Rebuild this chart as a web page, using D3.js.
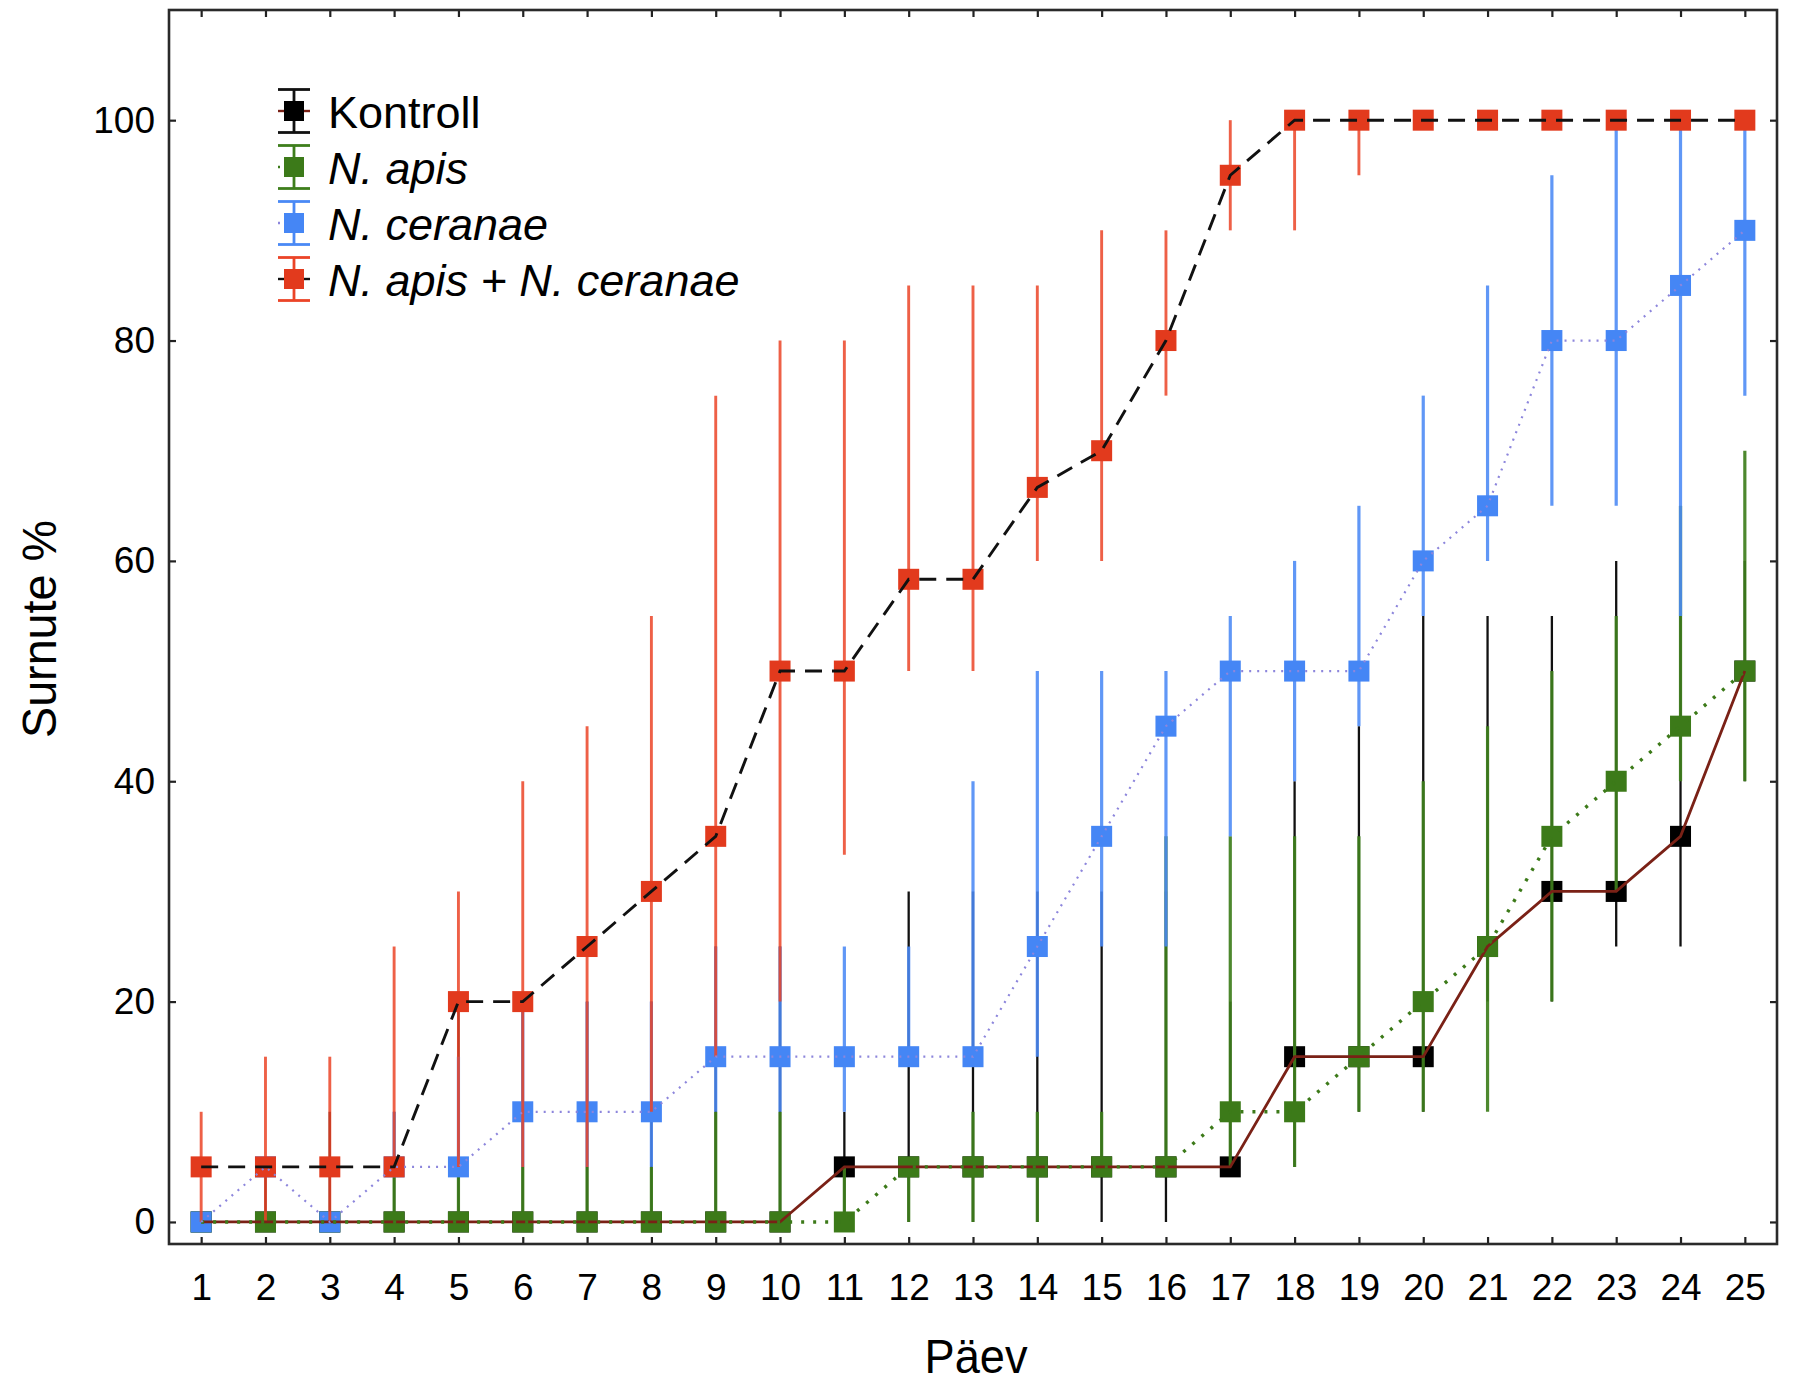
<!DOCTYPE html>
<html><head><meta charset="utf-8">
<script src="https://cdn.jsdelivr.net/npm/d3@7"></script>
<style>body{margin:0;background:#fff}svg{display:block}</style>
</head><body>
<svg id="chart" width="1794" height="1384"></svg>
<script>
// ---- data ----
const days = [1,2,3,4,5,6,7,8,9,10,11,12,13,14,15,16,17,18,19,20,21,22,23,24,25];
const yTicks = [0,20,40,60,80,100];
const seriesNames = ["Kontroll","N. apis","N. ceranae","N. apis + N. ceranae"];

const kontroll   = [0,0,0,0,0,0,0,0,0,0,5,5,5,5,5,5,5,15,15,15,25,30,30,35,50];
const kontrollLo = [0,0,0,0,0,0,0,0,0,0,0,0,0,0,0,0,5,5,10,10,20,20,25,25,40];
const kontrollHi = [0,5,10,10,20,20,20,20,25,25,10,30,30,30,30,30,20,40,45,55,55,55,60,55,60];

const apis   = [0,0,0,0,0,0,0,0,0,0,0,5,5,5,5,5,10,10,15,20,25,35,40,45,50];
const apisLo = [0,0,0,0,0,0,0,0,0,0,0,0,0,0,5,5,5,5,10,10,10,20,30,40,40];
const apisHi = [0,0,0,5,5,5,5,5,10,10,5,5,10,10,10,35,35,35,35,40,45,50,55,65,70];

const ceranae   = [0,5,0,5,5,10,10,10,15,15,15,15,15,25,35,45,50,50,50,60,65,80,80,85,90];
const ceranaeLo = [0,5,0,5,5,5,5,5,10,10,10,15,15,15,25,25,35,40,45,55,60,65,65,55,75];
const ceranaeHi = [0,5,0,10,15,20,20,20,25,25,25,25,40,50,50,50,55,60,65,75,85,95,100,100,100];

const combo   = [5,5,5,5,20,20,25,30,35,50,50,58.33,58.33,66.67,70,80,95,100,100,100,100,100,100,100,100];
const comboLo = [0,0,0,5,5,5,5,10,15,20,33.33,50,50,60,60,75,90,90,95,100,100,100,100,100,100];
const comboHi = [10,15,15,25,30,40,45,55,75,80,80,85,85,85,90,90,100,100,100,100,100,100,100,100,100];

// ---- styles ----
const styles = [
  {fill:"#000000", err:"#111111", errW:2.3, errOp:1.0,  line:"#7a2116", lineW:2.8, dash:null,    italic:false},
  {fill:"#3c7a19", err:"#3e7e1c", errW:3.2, errOp:0.92, line:"#3c7a19", lineW:3.4, dash:"3,9",   italic:true},
  {fill:"#4586f5", err:"#4a89f5", errW:3.2, errOp:0.88, line:"#8d86dc", lineW:2.2, dash:"2,6",   italic:true},
  {fill:"#e23a1d", err:"#eb4427", errW:2.9, errOp:0.85, line:"#111111", lineW:2.9, dash:"17,10", italic:true}
];
const values = [kontroll, apis, ceranae, combo];
const los = [kontrollLo, apisLo, ceranaeLo, comboLo];
const his = [kontrollHi, apisHi, ceranaeHi, comboHi];

const series = seriesNames.map((name,i)=>({
  name, style:styles[i],
  pts: days.map((d,j)=>({day:d, v:values[i][j], lo:los[i][j], hi:his[i][j]}))
}));

const svg = d3.select("#chart");
const x = d3.scaleLinear().domain([0.5,25.5]).range([169,1777]);
const y = d3.scaleLinear().domain([-2,110]).range([1244,10]);
const SQ = 21;
const FONT = "'Liberation Sans', Arial, Helvetica, sans-serif";

const plot = svg.append("g");

// error bars + markers, per series
series.forEach(s=>{
  const g = plot.append("g");
  g.selectAll("line.err").data(s.pts.filter(p=>p.hi>p.lo)).join("line")
    .attr("class","err")
    .attr("x1",p=>x(p.day)).attr("x2",p=>x(p.day))
    .attr("y1",p=>y(p.lo)).attr("y2",p=>y(p.hi))
    .attr("stroke",s.style.err).attr("stroke-width",s.style.errW)
    .attr("stroke-opacity",s.style.errOp);
  g.selectAll("rect").data(s.pts).join("rect")
    .attr("x",p=>x(p.day)-SQ/2).attr("y",p=>y(p.v)-SQ/2)
    .attr("width",SQ).attr("height",SQ)
    .attr("fill",s.style.fill);
});

// connecting lines on top
const lineGen = d3.line().x(p=>x(p.day)).y(p=>y(p.v));
series.forEach(s=>{
  plot.append("path").datum(s.pts)
    .attr("d",lineGen).attr("fill","none")
    .attr("stroke",s.style.line).attr("stroke-width",s.style.lineW)
    .attr("stroke-dasharray",s.style.dash);
});

// axes (ticks inward)
const axB = svg.append("g").attr("transform","translate(0,1244)")
  .call(d3.axisBottom(x).tickValues(days).tickSize(-7).tickPadding(30).tickFormat(d3.format("d")));
const axT = svg.append("g").attr("transform","translate(0,10)")
  .call(d3.axisTop(x).tickValues(days).tickSize(-7).tickFormat(""));
const axL = svg.append("g").attr("transform","translate(169,0)")
  .call(d3.axisLeft(y).tickValues(yTicks).tickSize(-7).tickPadding(14).tickFormat(d3.format("d")));
const axR = svg.append("g").attr("transform","translate(1777,0)")
  .call(d3.axisRight(y).tickValues(yTicks).tickSize(-7).tickFormat(""));
[axB,axT,axL,axR].forEach(a=>{
  a.select(".domain").remove();
  a.selectAll(".tick line").attr("stroke","#222").attr("stroke-width",2.2);
  a.selectAll("text").attr("font-family",FONT).attr("font-size",37).attr("fill","#000");
});

// frame
svg.append("rect").attr("x",169).attr("y",10).attr("width",1777-169).attr("height",1244-10)
  .attr("fill","none").attr("stroke","#2a2a2a").attr("stroke-width",2.6);

// axis titles
svg.append("text").attr("x",976).attr("y",1373).attr("text-anchor","middle")
  .attr("font-family",FONT).attr("font-size",48).attr("textLength",103).attr("lengthAdjust","spacingAndGlyphs")
  .text("Päev");
svg.append("text").attr("transform","translate(56,629) rotate(-90)").attr("text-anchor","middle")
  .attr("font-family",FONT).attr("font-size",49).attr("textLength",218).attr("lengthAdjust","spacingAndGlyphs")
  .text("Surnute %");

// legend
const leg = svg.append("g");
series.forEach((s,i)=>{
  const cy = 111 + i*56, cx = 294;
  const g = leg.append("g");
  g.append("line").attr("x1",cx-16).attr("x2",cx+16).attr("y1",cy).attr("y2",cy)
    .attr("stroke",s.style.line).attr("stroke-width",2.4)
    .attr("stroke-dasharray", s.style.dash ? (i===3? null : "2,6") : null);
  g.append("line").attr("x1",cx).attr("x2",cx).attr("y1",cy-21.5).attr("y2",cy+21.5)
    .attr("stroke",s.style.err).attr("stroke-width",2.8);
  [cy-21.5, cy+21.5].forEach(yy=>g.append("line").attr("x1",cx-16).attr("x2",cx+16)
    .attr("y1",yy).attr("y2",yy).attr("stroke",s.style.err).attr("stroke-width",2.8));
  g.append("rect").attr("x",cx-10).attr("y",cy-10).attr("width",20).attr("height",20).attr("fill",s.style.fill);
  g.append("text").attr("x",328).attr("y",cy+17)
    .attr("font-family",FONT).attr("font-size",45)
    .attr("font-style", s.style.italic ? "italic" : "normal")
    .text(s.name);
});
</script>
</body></html>
